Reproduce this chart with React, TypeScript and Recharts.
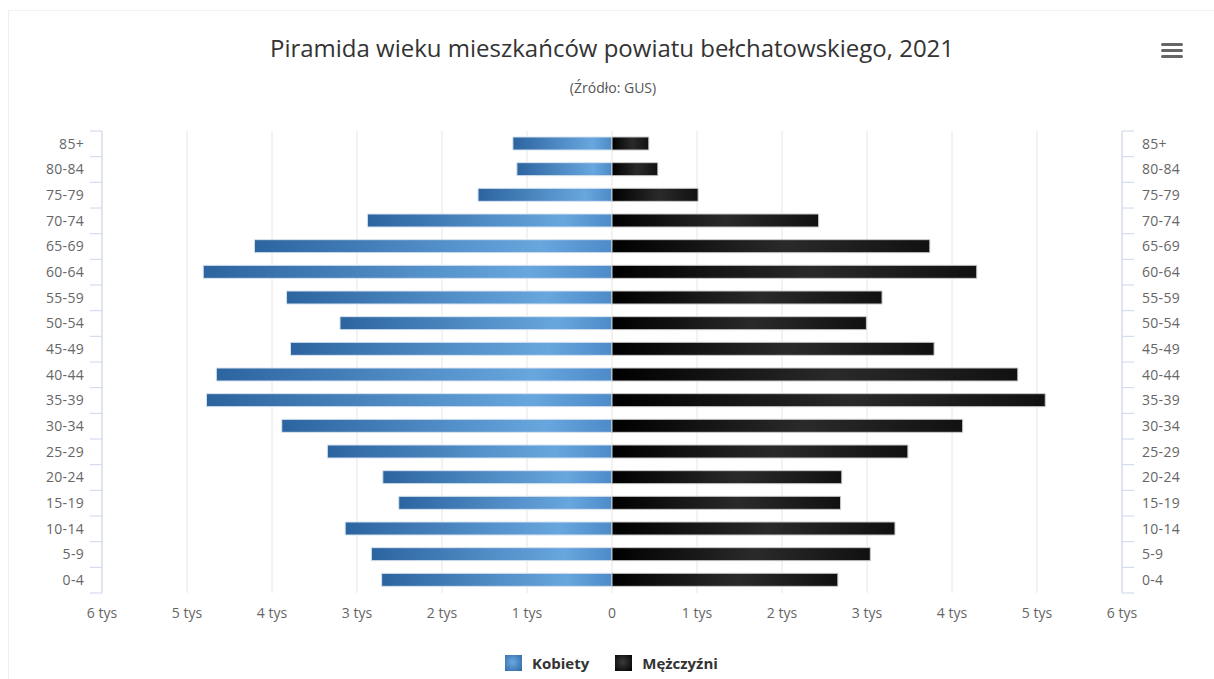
import React from 'react'
import { BarChart, Bar, XAxis, YAxis, CartesianGrid } from 'recharts'

const ageGroups = ['85+', '80-84', '75-79', '70-74', '65-69', '60-64', '55-59', '50-54', '45-49', '40-44', '35-39', '30-34', '25-29', '20-24', '15-19', '10-14', '5-9', '0-4']
const women = [1166, 1119, 1576, 2878, 4207, 4809, 3829, 3200, 3783, 4655, 4771, 3885, 3349, 2696, 2509, 3139, 2831, 2710]
const men = [433, 539, 1013, 2431, 3739, 4291, 3177, 2993, 3789, 4774, 5097, 4125, 3481, 2703, 2689, 3329, 3039, 2657]
const xTicks = [-6000, -5000, -4000, -3000, -2000, -1000, 0, 1000, 2000, 3000, 4000, 5000, 6000]

const data = ageGroups.map((g, i) => ({ age: g, kobiety: -women[i], mezczyzni: men[i] }))

const FONT = '"Open Sans", sans-serif'
const TOP = 131
const PLOT_H = 462
const BAND = PLOT_H / ageGroups.length

const fmt = (v: number) => (v === 0 ? '0' : `${Math.abs(v) / 1000} tys`)

function CatTick(props: any) {
    const { x, y, payload, index, side } = props
    const left = side === 'left'
    const axisX = left ? x + 8 : x - 8
    const tx = left ? axisX - 12 : axisX + 12
    const isLast = index === ageGroups.length - 1
    return (
        <g>
            <line x1={axisX} x2={tx} y1={y - BAND / 2} y2={y - BAND / 2} stroke="#ccd6eb" />
            {isLast && <line x1={axisX} x2={tx} y1={y + BAND / 2} y2={y + BAND / 2} stroke="#ccd6eb" />}
            <text x={left ? axisX - 18 : axisX + 20} y={y} dy="0.35em" textAnchor={left ? 'end' : 'start'}
                fill="#666" fontSize={14} fontFamily={FONT} letterSpacing={0.3}>
                {payload.value}
            </text>
        </g>
    )
}

export default function App() {
    return (
        <div style={{ position: 'absolute', left: 0, top: 0, width: 1214, height: 679, background: '#fff', fontFamily: FONT }}>
            <div style={{ position: 'absolute', left: 8, top: 10, width: 1206, height: 669, borderLeft: '1px solid #eee', borderTop: '1px solid #f2f2f2' }} />
            <div style={{ position: 'absolute', left: 0, width: 1224, top: 31, textAlign: 'center', fontSize: 24, color: '#333' }}>
                Piramida wieku mieszkańców powiatu bełchatowskiego, 2021
            </div>
            <div style={{ position: 'absolute', left: 0, width: 1226, top: 78, textAlign: 'center', fontSize: 14, color: '#555' }}>
                (Źródło: GUS)
            </div>
            <div style={{ position: 'absolute', left: 1161, top: 43 }}>
                {[0, 6, 12].map(o => (
                    <div key={o} style={{ position: 'absolute', top: o, width: 22, height: 3, borderRadius: 2, background: '#666' }} />
                ))}
            </div>
            <div style={{ position: 'absolute', left: 0, top: 0 }}>
                <BarChart width={1214} height={679} data={data} layout="vertical" stackOffset="sign"
                    barSize={13} margin={{ top: TOP, right: 0, bottom: 679 - TOP - PLOT_H - 40, left: 0 }}>
                    <defs>
                        <linearGradient id="gWomen" x1="0" y1="0" x2="1" y2="0">
                            <stop offset="0%" stopColor="#2c649f" />
                            <stop offset="80%" stopColor="#68a6de" />
                            <stop offset="100%" stopColor="#4d8bc9" />
                        </linearGradient>
                        <linearGradient id="gMen" x1="0" y1="0" x2="1" y2="0">
                            <stop offset="0%" stopColor="#000" />
                            <stop offset="55%" stopColor="#2a2a2a" />
                            <stop offset="100%" stopColor="#111" />
                        </linearGradient>
                    </defs>
                    <CartesianGrid horizontal={false} stroke="#e6e6e6" />
                    <XAxis type="number" domain={[-6000, 6000]} ticks={xTicks} tickFormatter={fmt} interval={0}
                        axisLine={false} tickLine={false} tickMargin={9} height={40}
                        tick={{ fill: '#666', fontSize: 14, fontFamily: FONT }} />
                    <YAxis yAxisId="l" type="category" dataKey="age" width={102} axisLine={{ stroke: '#ccd6eb' }}
                        tickLine={false} interval={0} tick={<CatTick side="left" />} />
                    <YAxis yAxisId="r" type="category" dataKey="age" orientation="right" width={92} axisLine={{ stroke: '#ccd6eb' }}
                        tickLine={false} interval={0} tick={<CatTick side="right" />} />
                    <Bar yAxisId="l" dataKey="kobiety" stackId="a" fill="url(#gWomen)" stroke="#d6e2ef" strokeWidth={1} isAnimationActive={false} />
                    <Bar yAxisId="l" dataKey="mezczyzni" stackId="a" fill="url(#gMen)" stroke="#c8c8c8" strokeWidth={1} isAnimationActive={false} />
                </BarChart>
            </div>
            <div style={{ position: 'absolute', top: 653, left: 505, display: 'flex', alignItems: 'center', fontSize: 15, fontWeight: 700, color: '#333' }}>
                <span style={{ width: 17, height: 16, background: 'radial-gradient(circle at 45% 45%, #6aa8e0, #2f67a3)', marginRight: 10 }} />
                <span style={{ marginRight: 26 }}>Kobiety</span>
                <span style={{ width: 17, height: 16, background: 'radial-gradient(circle at 45% 45%, #3a3a3a, #000)', marginRight: 10 }} />
                <span>Mężczyźni</span>
            </div>
        </div>
    )
}
